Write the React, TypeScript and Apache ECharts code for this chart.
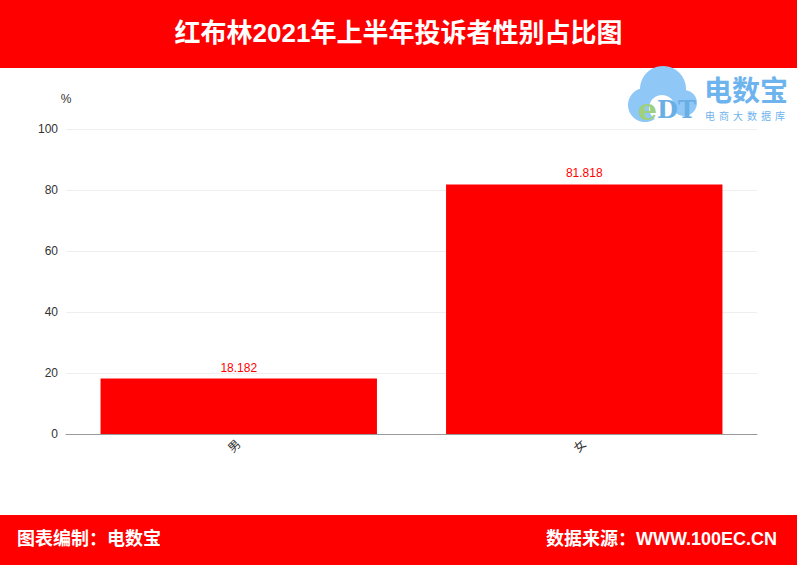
import React, { useEffect, useRef } from "react";
import * as echarts from "echarts";

const title = "红布林2021年上半年投诉者性别占比图";
const categories = ["男", "女"];
const values = [18.182, 81.818];
const yTicks = { min: 0, max: 100, interval: 20 };
const footerLeft = "图表编制：电数宝";
const footerRight = "数据来源：WWW.100EC.CN";
const logoSub = ["电", "商", "大", "数", "据", "库"];

const FONT = "'Liberation Sans', 'Noto Sans CJK SC', sans-serif";

export default function App() {
  const ref = useRef<HTMLDivElement>(null);
  useEffect(() => {
    document.body.style.margin = "0";
    const chart = echarts.init(ref.current!, null, { renderer: "svg" });
    chart.setOption({
      animation: false,
      backgroundColor: "#ffffff",
      textStyle: { fontFamily: FONT },
      grid: { left: 66, right: 40, top: 129, bottom: 131 },
      xAxis: {
        type: "category",
        data: categories,
        axisLine: { lineStyle: { color: "#999" } },
        axisTick: { lineStyle: { color: "#999" } },
        axisLabel: { rotate: 45, color: "#333", fontSize: 12, margin: 8 },
      },
      yAxis: {
        type: "value",
        name: "%",
        nameTextStyle: { color: "#333", fontSize: 12, align: "center" },
        nameGap: 24,
        min: yTicks.min,
        max: yTicks.max,
        interval: yTicks.interval,
        axisLine: { show: false },
        axisTick: { show: false },
        axisLabel: { color: "#333", fontSize: 12, margin: 8 },
        splitLine: { lineStyle: { color: "#eeeeee" } },
      },
      series: [
        {
          type: "bar",
          data: values,
          barWidth: "80%",
          itemStyle: { color: "#ff0000" },
          label: {
            show: true,
            position: "top",
            color: "#ff0000",
            fontSize: 12,
            formatter: (p: any) => String(p.value),
          },
        },
      ],
      graphic: [
        { type: "rect", left: 0, top: 0, shape: { width: 797, height: 68 }, style: { fill: "#ff0000" } },
        {
          type: "text",
          left: "center",
          top: 20,
          style: { text: title, fill: "#fff", font: `bold 26px ${FONT}` },
        },
        { type: "rect", left: 0, top: 515, shape: { width: 797, height: 50 }, style: { fill: "#ff0000" } },
        {
          type: "text",
          left: 17,
          top: 530,
          style: { text: footerLeft, fill: "#fff", font: `bold 18px ${FONT}` },
        },
        {
          type: "text",
          right: 20,
          top: 530,
          style: { text: footerRight, fill: "#fff", font: `bold 18px ${FONT}` },
        },
        { type: "circle", shape: { cx: 663, cy: 89, r: 23 }, style: { fill: "#8fc8f7" } },
        { type: "circle", shape: { cx: 645, cy: 105, r: 17 }, style: { fill: "#8fc8f7" } },
        { type: "circle", shape: { cx: 684, cy: 103, r: 13 }, style: { fill: "#8fc8f7" } },
        { type: "circle", shape: { cx: 662, cy: 108, r: 13 }, style: { fill: "#ffffff" } },
        {
          type: "text",
          left: 638,
          top: 94,
          style: {
            text: "{e|e}{d|DT}",
            rich: {
              e: { fill: "#9fd07c", font: "bold 30px 'DejaVu Serif', serif" },
              d: { fill: "#6aaee6", font: "bold 24px 'DejaVu Serif', serif" },
            },
          },
        },
        {
          type: "text",
          left: 704,
          top: 75,
          style: { text: "电数宝", fill: "#6db3ee", font: "bold 28px 'Noto Sans CJK SC', sans-serif" },
        },
        ...logoSub.map((ch, i) => ({
          type: "text",
          left: 705 + i * 14,
          top: 110,
          style: { text: ch, fill: "#6db3ee", font: "10px 'Noto Sans CJK SC', sans-serif" },
        })),
      ],
    });
    return () => chart.dispose();
  }, []);
  return <div ref={ref} style={{ position: "absolute", left: 0, top: 0, width: 797, height: 565 }} />;
}
